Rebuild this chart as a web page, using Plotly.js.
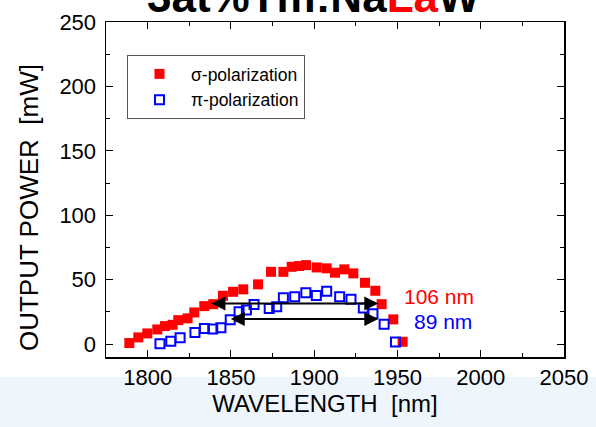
<!DOCTYPE html>
<html>
<head>
<meta charset="utf-8">
<script src="https://cdn.plot.ly/plotly-3.0.1.min.js"></script>
<style>
html,body{margin:0;padding:0;background:#fff;}
#chart{width:596px;height:427px;}
</style>
</head>
<body>
<div id="chart"></div>
<script>
// sigma-polarization (filled red squares)
var sigmaWavelength = [1789, 1794.4, 1799.8, 1805.8, 1810.4, 1815, 1818.4, 1824, 1828, 1834, 1839.4, 1845.2, 1851.3, 1857.4, 1866.3, 1874.1, 1881.5, 1886.5, 1891, 1895.1, 1901.5, 1907.5, 1912.5, 1918.1, 1923.5, 1930.5, 1936.7, 1940.5, 1947.5, 1953.1];
var sigmaPower = [0.8, 5.2, 8.3, 11.4, 14, 15, 18.6, 20, 24.6, 29.5, 31, 37.5, 40.6, 42.5, 46.4, 56.1, 56.1, 60, 60.6, 61.3, 59.5, 58.8, 55.4, 58, 54.9, 47.6, 41.4, 31, 19.2, 1.8];
// pi-polarization (open blue squares)
var piWavelength = [1807.4, 1813.9, 1819.5, 1828.4, 1834.1, 1839.1, 1844, 1849.6, 1854.9, 1859.3, 1863.9, 1873, 1877.5, 1881.5, 1888.3, 1895, 1901.3, 1907.5, 1915.3, 1922.1, 1929.5, 1935.3, 1942, 1948.8];
var piPower = [0.3, 2.3, 4.9, 9.1, 12.2, 11.8, 12.7, 18.9, 25.1, 26.4, 30.8, 27.7, 29, 36, 36.7, 39.8, 37.7, 41.1, 36.7, 34.9, 28.1, 23.5, 15.5, 1.6];
// bandwidth arrows
var sigmaBand = {from: 1837.4, to: 1938.5, level: 31.6, label: '106 nm', labelX: 1975, labelY: 37.3};
var piBand = {from: 1849, to: 1938.5, level: 19.4, label: '89 nm', labelX: 1977.3, labelY: 17.9};
var xTicks = [1800, 1850, 1900, 1950, 2000, 2050];
var yTicks = [0, 50, 100, 150, 200, 250];
var chartTitle = '<b>3at%Tm:Na<span style="color:#ff0000">La</span>W</b>';

var FONT = 'Liberation Sans, Arial, Helvetica, sans-serif';
var RED = '#ff0000', BLUE = '#0000ff';

var traces = [
  {x: sigmaWavelength, y: sigmaPower, type: 'scatter', mode: 'markers', name: 'σ-polarization',
   marker: {symbol: 'square', size: 10, color: RED}},
  {x: piWavelength, y: piPower, type: 'scatter', mode: 'markers', name: 'π-polarization',
   marker: {symbol: 'square-open', size: 9, color: BLUE, line: {width: 2, color: BLUE}}}
];

function arrow(b) {
  return {x: b.to, y: b.level, ax: b.from, ay: b.level, xref: 'x', yref: 'y', axref: 'x', ayref: 'y',
    text: '', showarrow: true, arrowside: 'end+start', arrowhead: 2, startarrowhead: 2,
    arrowsize: 1.4, startarrowsize: 1.4, arrowwidth: 2, arrowcolor: '#000', standoff: 0, startstandoff: 0};
}
function label(b, c) {
  return {x: b.labelX, y: b.labelY, xref: 'x', yref: 'y', text: b.label, showarrow: false,
    font: {family: FONT, size: 21, color: c}};
}

var axisCommon = {
  showgrid: false, zeroline: false, showline: true, linecolor: '#000', linewidth: 1.5,
  mirror: 'ticks', ticks: 'inside', ticklen: 7, tickwidth: 1, tickcolor: '#000',
  tickfont: {family: FONT, size: 22, color: '#000'},
  minor: {ticks: 'inside', ticklen: 4, tickwidth: 1, tickcolor: '#000'}
};

var layout = {
  width: 596, height: 427,
  margin: {l: 106, r: 32, t: 22, b: 70, pad: 0},
  paper_bgcolor: '#fff', plot_bgcolor: '#fff',
  showlegend: true,
  xaxis: Object.assign({}, axisCommon, {
    range: [1775, 2050], tickvals: xTicks, ticktext: xTicks.map(String),
    minor: Object.assign({}, axisCommon.minor, {dtick: 25, tick0: 1775}),
    title: {text: 'WAVELENGTH  [nm]&nbsp;&nbsp;&nbsp;', font: {family: FONT, size: 24, color: '#000'}, standoff: 2}
  }),
  yaxis: Object.assign({}, axisCommon, {
    range: [-10, 250], tickvals: yTicks, ticktext: yTicks.map(String),
    minor: Object.assign({}, axisCommon.minor, {dtick: 25, tick0: 0}),
    ticklabelstandoff: 4,
    title: {text: 'OUTPUT POWER  [mW]&nbsp;&nbsp;&nbsp;&nbsp;&nbsp;', font: {family: FONT, size: 26, color: '#000'}, standoff: 13}
  }),
  legend: {x: (127 - 106) / 458, y: 1 - (55 - 22) / 335, xanchor: 'left', yanchor: 'top',
    bordercolor: '#555', borderwidth: 1, bgcolor: 'rgba(255,255,255,0)',
    font: {family: FONT, size: 17.5, color: '#000'}, itemwidth: 53},
  annotations: [
    {text: chartTitle, xref: 'paper', yref: 'paper', x: (313.5 - 106) / 458, y: 1, xanchor: 'center', yanchor: 'bottom',
     yshift: -1, showarrow: false, font: {family: FONT, size: 44, color: '#000'}},
    arrow(sigmaBand), arrow(piBand), label(sigmaBand, RED), label(piBand, BLUE)],
  shapes: [{type: 'rect', xref: 'paper', yref: 'paper', x0: -0.3, x1: 1.2, y0: -(377 - 357) / 335, y1: -0.4,
    fillcolor: '#eef5fd', line: {width: 0}, layer: 'below'}]
};

Plotly.newPlot('chart', traces, layout, {displayModeBar: false, staticPlot: true});
</script>
</body>
</html>
